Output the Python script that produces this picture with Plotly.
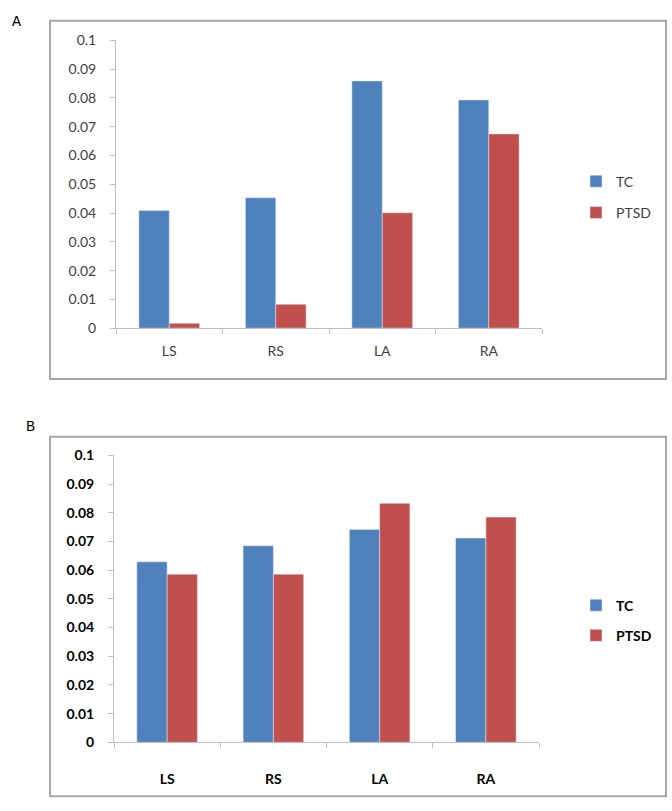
import plotly.graph_objects as go

categories = ["LS", "RS", "LA", "RA"]
a_tc = [0.0409, 0.0453, 0.0859, 0.0793]
a_ptsd = [0.0017, 0.0083, 0.0401, 0.0675]
b_tc = [0.0629, 0.0685, 0.0742, 0.0712]
b_ptsd = [0.0586, 0.0586, 0.0833, 0.0785]
series_names = ["TC", "PTSD"]
panel_labels = ["A", "B"]

BLUE = "#4F81BD"
RED = "#C0504D"
W, H = 672, 811

def px(x):
    return x / W

def py(y):
    return 1 - y / H

fig = go.Figure()
fig.add_trace(go.Bar(x=categories, y=a_tc, name=series_names[0], marker_color=BLUE,
                     xaxis="x", yaxis="y", legend="legend", legendgroup="a1"))
fig.add_trace(go.Bar(x=categories, y=a_ptsd, name=series_names[1], marker_color=RED,
                     xaxis="x", yaxis="y", legend="legend", legendgroup="a2"))
fig.add_trace(go.Bar(x=categories, y=b_tc, name=series_names[0], marker_color=BLUE,
                     xaxis="x2", yaxis="y2", legend="legend2", legendgroup="b1"))
fig.add_trace(go.Bar(x=categories, y=b_ptsd, name=series_names[1], marker_color=RED,
                     xaxis="x2", yaxis="y2", legend="legend2", legendgroup="b2"))

fontA = dict(family="Lato, Open Sans, sans-serif", size=14, color="#404040")
fontB = dict(family="Lato, Open Sans, sans-serif", size=14, color="#000000", weight="bold")
axcol = "#BFBFBF"

common_x = dict(type="category", showline=True, linecolor=axcol, linewidth=1,
                ticks="outside", tickson="boundaries", ticklen=5, tickcolor=axcol,
                showgrid=False, zeroline=False, fixedrange=True)
common_y = dict(range=[0, 0.1], dtick=0.01, showline=True, linecolor=axcol, linewidth=1,
                ticks="outside", ticklen=5, tickcolor=axcol, showgrid=False,
                zeroline=False, ticklabelstandoff=11)

fig.update_layout(
    width=W, height=H, margin=dict(l=0, r=0, t=0, b=0),
    paper_bgcolor="white", plot_bgcolor="white",
    barmode="group", bargap=0.43, bargroupgap=0,
    xaxis=dict(domain=[px(116), px(542)], anchor="y", tickfont=fontA, ticklabelstandoff=10, **common_x),
    yaxis=dict(domain=[py(326), py(32)], anchor="x", tickfont=fontA, **common_y),
    xaxis2=dict(domain=[px(114), px(539)], anchor="y2", tickfont=fontB, ticklabelstandoff=24, **common_x),
    yaxis2=dict(domain=[py(749), py(456)], anchor="x2", tickfont=fontB, **common_y),
    legend=dict(x=px(576), y=py(160), xanchor="left", yanchor="top", font=fontA,
                traceorder="grouped", tracegroupgap=10, itemwidth=30, bgcolor="rgba(0,0,0,0)"),
    legend2=dict(x=px(576), y=py(593), xanchor="left", yanchor="top", font=fontB,
                 traceorder="grouped", tracegroupgap=9, itemwidth=30, bgcolor="rgba(0,0,0,0)"),
    shapes=[
        dict(type="rect", xref="paper", yref="paper", x0=px(50), x1=px(666), y0=py(378), y1=py(12),
             line=dict(color="#A6A6A6", width=2)),
        dict(type="rect", xref="paper", yref="paper", x0=px(50), x1=px(666), y0=py(804), y1=py(437),
             line=dict(color="#A6A6A6", width=2)),
    ],
    annotations=[
        dict(text=panel_labels[0], xref="paper", yref="paper", x=px(16), y=py(14), xanchor="center",
             yanchor="middle", showarrow=False,
             font=dict(family="Liberation Mono, monospace", size=15, color="#000")),
        dict(text=panel_labels[1], xref="paper", yref="paper", x=px(30), y=py(427), xanchor="center",
             yanchor="middle", showarrow=False,
             font=dict(family="Liberation Mono, monospace", size=15, color="#000")),
    ],
)

fig.write_html("out.html", config={"displayModeBar": False},
               post_script="document.body.style.margin='0';")
